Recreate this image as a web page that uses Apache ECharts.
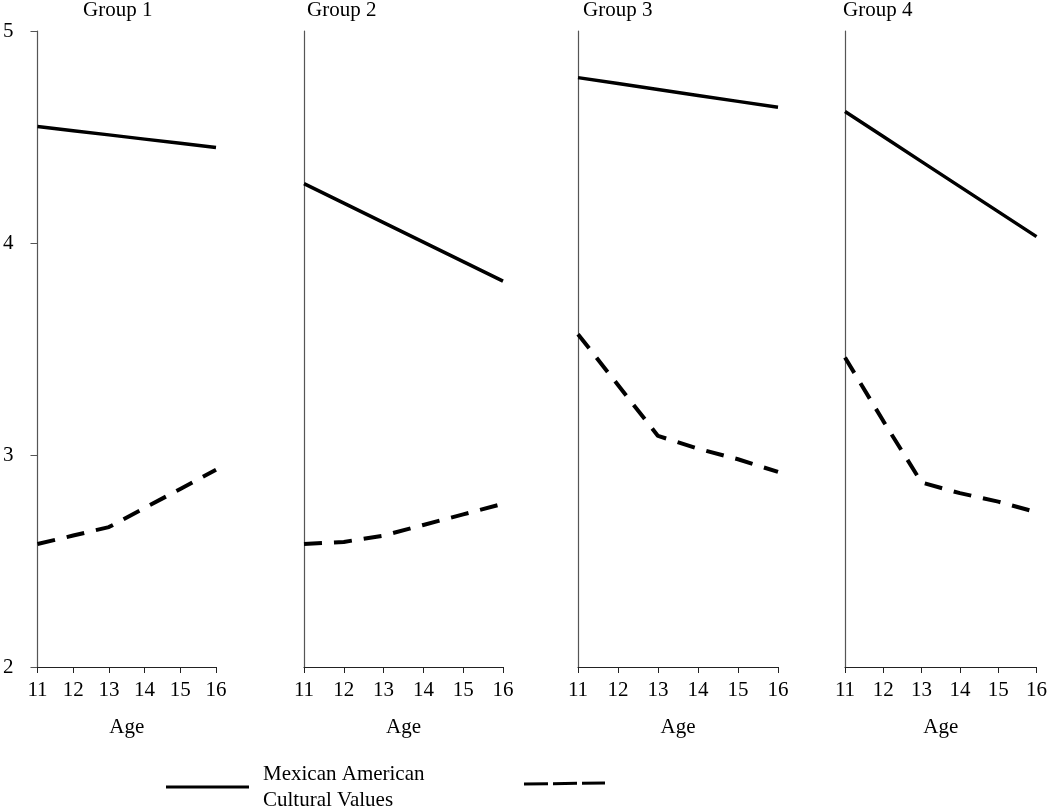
<!DOCTYPE html>
<html>
<head>
<meta charset="utf-8">
<script src="https://cdn.jsdelivr.net/npm/echarts@6/dist/echarts.min.js"></script>
<style>
  html, body { margin: 0; padding: 0; background: #fff; }
  #container { width: 1050px; height: 807px; }
</style>
</head>
<body>
<div id="container"></div>
<script>
const ages = [11, 12, 13, 14, 15, 16];
const groups = ['Group 1', 'Group 2', 'Group 3', 'Group 4'];
const yTicks = [2, 3, 4, 5];

// solid line: Mexican American Cultural Values
const culturalValues = [
    [4.55, 4.53, 4.51, 4.49, 4.47, 4.45],
    [4.28, 4.188, 4.096, 4.004, 3.912, 3.82],
    [4.78, 4.752, 4.724, 4.696, 4.668, 4.64],
    [4.62, 4.502, 4.384, 4.266, 4.148, 4.03]
];
// dashed line
const dashedValues = [
    [2.58, 2.62, 2.66, 2.75, 2.84, 2.93],
    [2.58, 2.59, 2.62, 2.67, 2.72, 2.77],
    [3.57, 3.33, 3.09, 3.03, 2.98, 2.92],
    [3.46, 3.16, 2.87, 2.82, 2.78, 2.73]
];

const font = 'Liberation Serif';
const panels = [
    { left: 35, width: 181, titleLeft: 83 },
    { left: 304, width: 199, titleLeft: 307 },
    { left: 578, width: 200, titleLeft: 583 },
    { left: 845, width: 195, titleLeft: 843 }
];

const myChart = echarts.init(document.getElementById('container'));

const option = {
    backgroundColor: '#fff',
    animation: false,
    title: groups.map((g, i) => ({
        text: g,
        left: panels[i].titleLeft,
        top: 0,
        padding: 0,
        textStyle: { fontFamily: font, fontSize: 21, fontWeight: 'normal', color: '#000' }
    })),
    grid: panels.map(p => ({ left: p.left, width: p.width, top: 31, bottom: 140 })),
    xAxis: panels.map((p, i) => ({
        type: 'value',
        gridIndex: i,
        min: ages[0],
        max: ages[ages.length - 1],
        interval: 1,
        name: 'Age',
        nameLocation: 'middle',
        nameGap: 50,
        nameTextStyle: { fontFamily: font, fontSize: 21, color: '#000' },
        axisLine: { lineStyle: { color: '#222', width: 1.2 } },
        axisTick: { length: 6, lineStyle: { color: '#222' } },
        axisLabel: { fontFamily: font, fontSize: 21, color: '#000', margin: 13 },
        splitLine: { show: false }
    })),
    yAxis: panels.map((p, i) => ({
        type: 'value',
        gridIndex: i,
        min: yTicks[0],
        max: yTicks[yTicks.length - 1],
        interval: 1,
        axisLine: { show: true, lineStyle: { color: '#555', width: 1.2 } },
        axisTick: { show: i === 0, length: 7, lineStyle: { color: '#555' } },
        axisLabel: { show: i === 0, fontFamily: font, fontSize: 21, color: '#000', margin: 24 },
        splitLine: { show: false }
    })),
    series: [
        ...culturalValues.map((vals, i) => ({
            name: 'Mexican American Cultural Values',
            type: 'line',
            xAxisIndex: i,
            yAxisIndex: i,
            data: ages.map((a, k) => [a, vals[k]]),
            symbol: 'none',
            lineStyle: { color: '#000', width: 3.5 }
        })),
        ...dashedValues.map((vals, i) => ({
            name: 'dashed',
            type: 'line',
            xAxisIndex: i,
            yAxisIndex: i,
            data: ages.map((a, k) => [a, vals[k]]),
            symbol: 'none',
            lineStyle: { color: '#000', width: 4, type: [18, 12] }
        }))
    ],
    graphic: [
        {
            type: 'line',
            shape: { x1: 166, y1: 787, x2: 249, y2: 787 },
            style: { stroke: '#000', lineWidth: 3 }
        },
        {
            type: 'text',
            left: 263,
            top: 761,
            style: {
                text: 'Mexican American\nCultural Values',
                fontFamily: font,
                fontSize: 21,
                lineHeight: 26,
                fill: '#000'
            }
        },
        {
            type: 'line',
            shape: { x1: 524, y1: 784, x2: 605, y2: 783 },
            style: { stroke: '#000', lineWidth: 3, lineDash: [24, 5] }
        }
    ]
};

myChart.setOption(option);
</script>
</body>
</html>
